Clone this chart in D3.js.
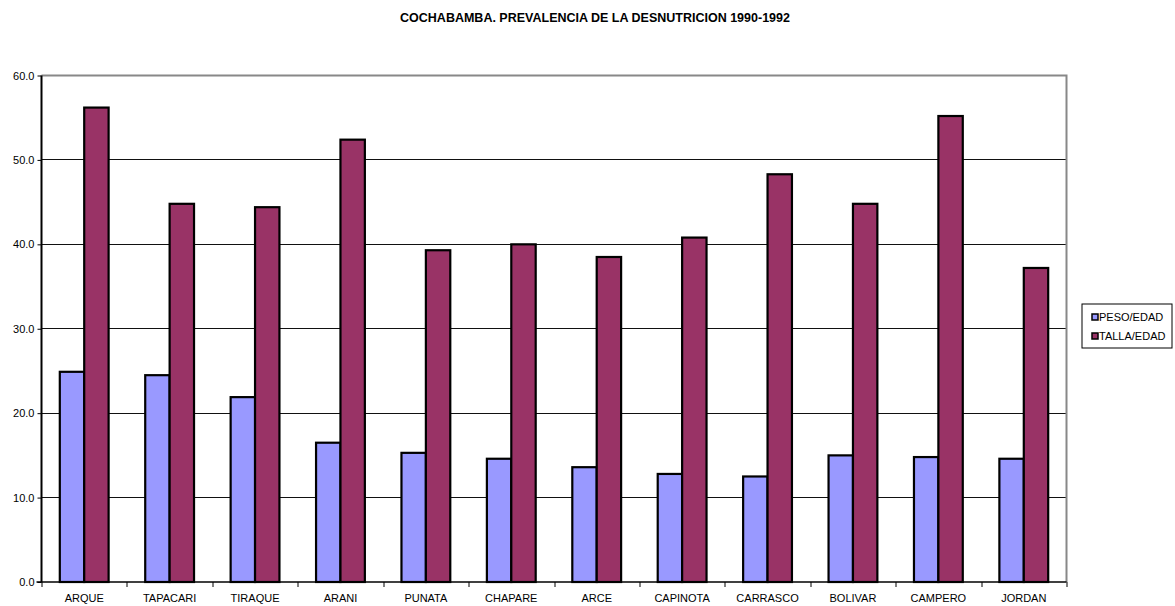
<!DOCTYPE html>
<html>
<head>
<meta charset="utf-8">
<script src="https://cdn.jsdelivr.net/npm/d3@7"></script>
<style>
  body { margin: 0; background: #fff; }
  text { font-family: "Liberation Sans", Arial, sans-serif; }
</style>
</head>
<body>
<svg id="chart" width="1175" height="606"></svg>
<script>
// data
var categories = ["ARQUE", "TAPACARI", "TIRAQUE", "ARANI", "PUNATA", "CHAPARE",
                  "ARCE", "CAPINOTA", "CARRASCO", "BOLIVAR", "CAMPERO", "JORDAN"];
var pesoEdad  = [24.9, 24.5, 21.9, 16.5, 15.3, 14.6, 13.6, 12.8, 12.5, 15.0, 14.8, 14.6];
var tallaEdad = [56.2, 44.8, 44.4, 52.4, 39.3, 40.0, 38.5, 40.8, 48.3, 44.8, 55.2, 37.2];
var seriesNames = ["PESO/EDAD", "TALLA/EDAD"];
var yTicks = [0, 10, 20, 30, 40, 50, 60];

var colors = ["#9999ff", "#993366"];

var svg = d3.select("#chart");
var margin = {top: 75.5, left: 41.5, right: 108.5, bottom: 24};
var width = +svg.attr("width"), height = +svg.attr("height");
var plotW = width - margin.left - margin.right,
    plotH = height - margin.top - margin.bottom;

var x = d3.scaleBand().domain(categories).range([0, plotW]);
var x1 = d3.scaleBand().domain(seriesNames).range([0, x.bandwidth()])
    .paddingInner(0).paddingOuter(0.75);
var y = d3.scaleLinear().domain([0, 60]).range([plotH, 0]);

// title
svg.append("text")
    .attr("x", 595).attr("y", 22)
    .attr("text-anchor", "middle")
    .style("font-size", "12.5px").style("font-weight", "bold")
    .text("COCHABAMBA. PREVALENCIA DE LA DESNUTRICION 1990-1992");

var g = svg.append("g").attr("transform", "translate(" + margin.left + "," + margin.top + ")");

// gridlines
g.selectAll(".grid").data(yTicks.filter(function(d) { return d > 0 && d < 60; }))
  .enter().append("line")
    .attr("x1", 0).attr("x2", plotW)
    .attr("y1", function(d) { return Math.round(y(d)); })
    .attr("y2", function(d) { return Math.round(y(d)); })
    .attr("stroke", "#111").attr("stroke-width", 1);

// plot frame top/right
g.append("path")
    .attr("d", "M0,0H" + plotW + "V" + plotH)
    .attr("fill", "none").attr("stroke", "#888").attr("stroke-width", 2);

// bars
var rows = categories.map(function(c, i) {
    return {cat: c, vals: [pesoEdad[i], tallaEdad[i]]};
});
var groups = g.selectAll(".grp").data(rows)
  .enter().append("g")
    .attr("transform", function(d) { return "translate(" + x(d.cat) + ",0)"; });
groups.selectAll("rect")
    .data(function(d) { return d.vals.map(function(v, j) { return {key: seriesNames[j], v: v, j: j}; }); })
  .enter().append("rect")
    .attr("x", function(d) { return x1(d.key); })
    .attr("width", x1.bandwidth())
    .attr("y", function(d) { return y(d.v); })
    .attr("height", function(d) { return plotH - y(d.v); })
    .attr("fill", function(d) { return colors[d.j]; })
    .attr("stroke", "#000").attr("stroke-width", 2.2);

// y axis
var yAxis = d3.axisLeft(y).tickValues(yTicks).tickFormat(d3.format(".1f")).tickSize(4).tickPadding(3);
var ya = g.append("g").call(yAxis);
ya.select(".domain").attr("stroke", "#000").attr("stroke-width", 2).attr("d", "M0,0V" + plotH);
ya.selectAll("text").style("font-size", "11px").attr("fill", "#000");

// x axis
var xa = g.append("g").attr("transform", "translate(0," + plotH + ")");
xa.append("line").attr("x1", -5).attr("x2", plotW).attr("stroke", "#000").attr("stroke-width", 1.5);
xa.selectAll(".tk").data(d3.range(categories.length + 1))
  .enter().append("line")
    .attr("x1", function(i) { return Math.round(i * x.step()) + 0.5; })
    .attr("x2", function(i) { return Math.round(i * x.step()) + 0.5; })
    .attr("y1", 0).attr("y2", 5)
    .attr("stroke", "#000");
xa.selectAll(".lbl").data(categories)
  .enter().append("text")
    .attr("x", function(d) { return x(d) + x.bandwidth() / 2; })
    .attr("y", 20)
    .attr("text-anchor", "middle")
    .style("font-size", "11px")
    .text(function(d) { return d; });

// legend
var lg = svg.append("g").attr("transform", "translate(1082,304)");
lg.append("rect").attr("width", 90).attr("height", 44)
    .attr("fill", "#fff").attr("stroke", "#000").attr("stroke-width", 1);
seriesNames.forEach(function(s, i) {
    lg.append("rect").attr("x", 10).attr("y", 10 + i * 19).attr("width", 6).attr("height", 6)
        .attr("fill", colors[i]).attr("stroke", "#000").attr("stroke-width", 1.5);
    lg.append("text").attr("x", 17).attr("y", 17 + i * 19)
        .style("font-size", "11px").text(s);
});
</script>
</body>
</html>
